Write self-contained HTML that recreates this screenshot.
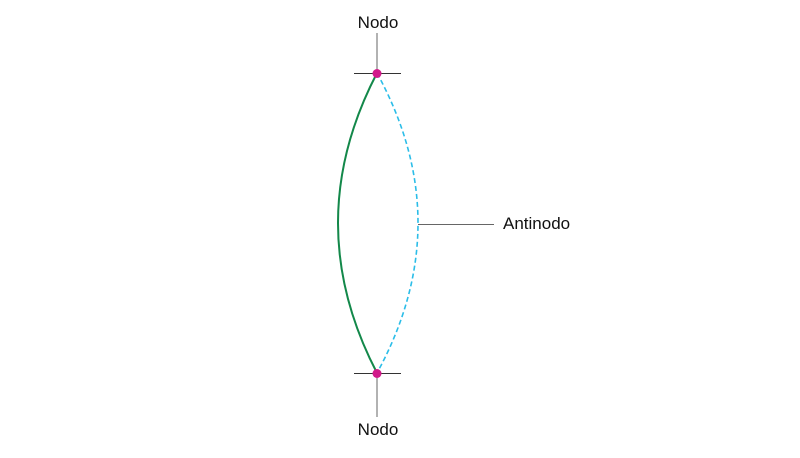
<!DOCTYPE html>
<html><head><meta charset="utf-8"><style>
html,body{margin:0;padding:0;background:#fff;}
svg{display:block;font-family:"Liberation Sans",sans-serif;}
</style></head><body>
<svg width="800" height="458" viewBox="0 0 800 458">
<line x1="377" y1="33" x2="377" y2="73" stroke="#666" stroke-width="1"/>
<line x1="354" y1="73.5" x2="401" y2="73.5" stroke="#333" stroke-width="1"/>
<line x1="377" y1="373" x2="377" y2="417" stroke="#666" stroke-width="1"/>
<line x1="354" y1="373.5" x2="401" y2="373.5" stroke="#333" stroke-width="1"/>
<line x1="418" y1="224.5" x2="494" y2="224.5" stroke="#666" stroke-width="1"/>
<path d="M377,73 Q299,223 377,373" fill="none" stroke="#13884a" stroke-width="2"/>
<path d="M377,73 Q459,223 377,373" fill="none" stroke="#2bbde8" stroke-width="1.6" stroke-dasharray="5,3"/>
<circle cx="377" cy="73.5" r="4.5" fill="#d11a8a"/>
<circle cx="377" cy="373.5" r="4.5" fill="#d11a8a"/>
<text x="378" y="28" font-size="17" text-anchor="middle" fill="#111">Nodo</text>
<text x="378" y="435" font-size="17" text-anchor="middle" fill="#111">Nodo</text>
<text x="503" y="229" font-size="17" fill="#111">Antinodo</text>
</svg>
</body></html>
